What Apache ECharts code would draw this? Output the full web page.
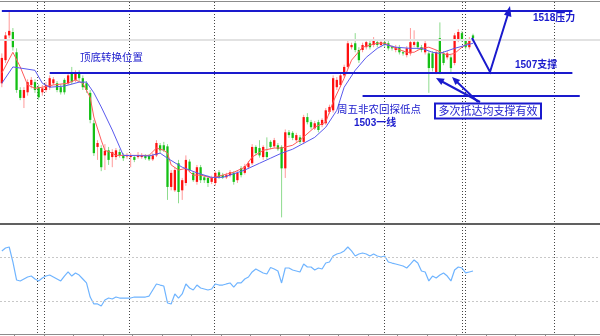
<!DOCTYPE html>
<html><head><meta charset="utf-8">
<script src="https://cdn.jsdelivr.net/npm/echarts@6/dist/echarts.min.js"></script>
<style>html,body{margin:0;padding:0;background:#fff}#c{width:600px;height:336px}</style>
</head><body><div id="c"></div>
<script>
// candle data: [open, close, low, high]
const ohlc = [
[1505.2,1509.7,1504.5,1510.5],[1509.3,1513.7,1508.8,1514.3],[1513.7,1514.5,1513.2,1518.0],[1514.3,1511.6,1511.0,1515.0],
[1510.7,1504.0,1503.5,1511.4],[1504.0,1502.6,1502.2,1504.5],[1502.6,1504.0,1500.8,1504.5],[1503.6,1505.4,1503.0,1505.9],
[1504.9,1505.8,1504.3,1506.3],[1505.4,1504.0,1503.5,1505.9],[1504.5,1502.7,1502.2,1505.0],[1503.6,1504.3,1503.0,1504.9],
[1504.0,1504.9,1503.6,1505.4],[1504.5,1506.1,1504.0,1506.6],[1505.2,1505.9,1504.9,1506.3],[1505.2,1504.0,1503.6,1505.6],
[1504.5,1503.6,1503.2,1505.0],[1505.8,1503.6,1503.2,1506.1],[1505.2,1506.6,1504.9,1507.0],[1507.0,1505.4,1505.0,1508.1],
[1505.8,1507.0,1505.4,1507.5],[1507.0,1506.1,1505.6,1507.5],[1506.1,1504.5,1504.0,1506.6],[1505.2,1504.0,1503.5,1505.6],
[1503.5,1498.7,1498.1,1504.0],[1498.1,1492.8,1492.3,1498.7],[1493.9,1494.6,1491.6,1495.1],[1493.7,1490.3,1489.6,1494.2],
[1492.4,1493.2,1489.8,1494.4],[1493.3,1491.6,1490.7,1493.9],[1492.1,1493.0,1490.3,1493.5],[1492.1,1493.3,1491.6,1493.7],
[1493.0,1492.4,1492.0,1493.5],[1492.4,1491.9,1491.4,1492.8],[1492.3,1492.4,1491.8,1492.8],[1492.1,1492.4,1490.3,1492.8],
[1492.1,1491.6,1491.2,1492.4],[1492.1,1492.4,1491.8,1493.0],[1492.1,1492.4,1491.8,1492.8],[1492.3,1491.9,1491.6,1492.6],
[1492.3,1491.7,1491.4,1492.6],[1491.7,1492.4,1491.4,1492.8],[1492.4,1494.6,1492.1,1495.1],[1494.2,1493.3,1492.8,1494.6],
[1494.2,1493.3,1493.0,1494.8],[1494.0,1486.8,1484.5,1494.4],[1486.8,1489.3,1486.2,1489.8],[1486.2,1489.8,1485.9,1490.3],
[1491.0,1485.9,1483.9,1491.6],[1486.2,1488.0,1484.5,1488.4],[1487.5,1491.6,1487.0,1492.4],[1491.3,1489.8,1489.4,1491.7],
[1489.3,1488.0,1487.7,1489.6],[1487.7,1490.3,1487.2,1490.7],[1490.3,1488.0,1487.5,1490.7],[1488.5,1488.0,1487.5,1488.9],
[1488.4,1487.5,1486.8,1488.8],[1487.7,1488.4,1487.3,1488.8],[1487.5,1489.3,1487.0,1489.6],[1489.4,1488.5,1488.2,1489.8],
[1488.9,1488.5,1488.2,1489.3],[1488.5,1488.9,1488.2,1489.3],[1488.9,1489.4,1488.5,1489.8],[1489.3,1487.7,1487.2,1489.6],
[1488.0,1489.3,1487.5,1489.6],[1490.1,1488.9,1488.5,1490.5],[1489.3,1490.5,1489.0,1490.9],[1490.3,1491.0,1490.0,1491.4],
[1491.0,1493.9,1490.7,1494.4],[1493.9,1492.8,1492.4,1494.2],[1493.7,1492.4,1492.0,1495.1],[1492.1,1493.9,1491.6,1494.2],
[1493.0,1492.1,1491.7,1495.6],[1494.8,1493.9,1493.5,1495.1],[1494.0,1495.1,1493.7,1495.5],[1494.2,1493.5,1493.2,1494.6],
[1493.9,1490.1,1481.4,1494.2],[1490.1,1496.5,1488.4,1497.0],[1496.5,1496.0,1495.5,1496.9],[1496.4,1495.5,1495.1,1496.7],
[1495.1,1496.0,1494.8,1496.4],[1495.6,1494.8,1494.4,1496.0],[1494.8,1499.2,1494.4,1499.6],[1499.2,1498.3,1497.9,1499.9],
[1498.3,1497.4,1497.0,1498.7],[1497.2,1498.1,1496.9,1498.5],[1498.3,1496.9,1496.5,1498.7],[1497.8,1498.7,1497.4,1499.0],
[1498.1,1500.4,1497.8,1500.8],[1500.1,1501.0,1499.7,1501.4],[1500.4,1506.1,1500.0,1506.6],[1504.5,1505.8,1504.0,1506.3],
[1504.9,1506.6,1504.5,1507.0],[1506.6,1508.1,1506.2,1508.5],[1508.1,1512.3,1507.8,1512.8],[1511.6,1512.0,1511.2,1512.4],
[1512.3,1511.1,1510.7,1514.1],[1511.1,1509.3,1508.8,1511.6],[1511.1,1512.0,1510.7,1512.4],[1511.6,1512.5,1511.2,1512.9],
[1512.3,1511.6,1511.2,1512.7],[1512.0,1512.9,1511.6,1513.4],[1512.5,1512.0,1511.6,1512.9],[1512.0,1512.5,1511.6,1512.9],
[1512.5,1512.0,1511.6,1513.0],[1512.3,1511.4,1511.0,1512.7],[1511.6,1511.4,1511.0,1511.9],[1511.1,1511.6,1510.7,1512.0],
[1511.6,1510.7,1510.3,1512.0],[1510.7,1510.5,1510.1,1511.0],[1510.2,1511.4,1509.8,1511.8],[1510.5,1512.5,1510.1,1515.0],
[1512.0,1512.5,1511.6,1514.6],[1512.5,1511.6,1511.2,1512.9],[1511.6,1511.1,1510.7,1512.0],[1510.7,1512.3,1510.3,1512.7],
[1510.5,1507.9,1503.5,1510.9],[1510.5,1507.9,1507.3,1510.9],[1507.2,1510.7,1506.8,1511.1],[1513.2,1507.2,1506.8,1516.0],
[1510.5,1508.8,1508.4,1510.9],[1509.8,1510.5,1509.4,1510.9],[1509.8,1507.9,1507.2,1510.2],[1508.8,1513.7,1508.4,1514.1],
[1512.9,1514.3,1512.5,1514.8],[1514.1,1512.9,1512.5,1514.5],[1512.9,1511.6,1511.2,1513.2],[1511.6,1512.9,1511.2,1513.4],
[1513.7,1513.2,1512.8,1514.0]
];
// moving averages: [candle index, price]
const maFast = [[0,1507.0],[3,1510.7],[5,1508.1],[7,1504.9],[9,1504.3],[11,1504.5],[14,1504.9],[18,1505.2],[20,1505.8],[22,1505.2],[24,1502.7],[25,1499.2],[27,1495.1],[28,1493.3],[30,1492.8],[31,1492.4],[40,1492.4],[42,1493.7],[44,1493.3],[45,1492.8],[46,1490.7],[48,1489.8],[50,1490.1],[52,1488.9],[54,1488.9],[57,1488.4],[60,1488.9],[63,1489.4],[66,1490.3],[68,1492.1],[71,1493.3],[74,1493.7],[76,1493.7],[79,1494.2],[81,1495.1],[85,1497.4],[88,1498.3],[90,1501.9],[93,1506.1],[95,1509.3],[98,1511.6],[102,1512.3],[104,1512.3],[107,1511.4],[110,1510.7],[112,1510.7],[114,1511.4],[116,1511.6],[118,1511.1],[121,1510.2],[123,1510.5],[125,1511.6],[127,1512.5]];
const maSlow = [[0,1505.2],[3,1508.1],[9,1507.5],[11,1505.2],[13,1504.5],[17,1504.7],[21,1505.4],[23,1505.4],[25,1503.5],[27,1501.0],[30,1496.9],[32,1493.9],[33,1492.4],[40,1492.3],[43,1492.8],[45,1491.9],[49,1490.3],[53,1489.3],[57,1488.5],[60,1488.5],[62,1488.9],[66,1489.8],[70,1491.0],[73,1491.9],[76,1492.8],[79,1493.5],[81,1494.2],[85,1495.6],[88,1497.4],[91,1500.4],[93,1504.5],[96,1507.5],[99,1509.8],[102,1511.4],[104,1512.1],[107,1511.6],[111,1511.4],[114,1511.4],[117,1510.7],[119,1510.5],[123,1511.4],[128,1512.3]];
// oscillator (lower panel)
const rsi = [75.5,78.2,79.1,65.5,49.1,48.2,50,51.8,52.7,50,48.2,50.9,52.7,53.6,51.8,50,48.2,52.7,56.4,52.7,55.5,53.6,50,46.4,33.6,27.3,27.3,25.5,30.9,32.7,31.8,33.6,32.7,32.7,32.7,32.7,33.6,33.6,33.6,33.6,34.5,40,45.5,44.5,43.6,28.2,27.3,36.4,32.7,36.4,45.5,41.8,40,44.5,41.8,40.9,40,40.9,45.5,44.5,44.5,45.5,46.4,42.7,46.4,46.4,50,51.8,56.4,59.1,57.3,55.5,54.5,60.5,59.1,57.3,46.4,60,60,58.2,57.3,56.4,63.6,60.9,60.9,58.2,60,59.1,64.5,65.5,70.9,72.7,73.6,75.5,79.1,75.5,70.9,72.7,73.6,72.7,70.9,72.7,70.9,70,70.9,65.5,64.5,63.6,62.7,61.8,60,63.6,67.3,64.5,57.3,56.4,48.2,52.7,50.9,53.6,55.5,52.7,48.2,58.2,60.9,60,55.5,56.4,57.3];
const levels = {resistance:1518, support:1507, low:1503, grey:1513};
const rsiLevels = [30, 70];
const categories = Array.from({length:163}, (_, i) => String(i));
const separatorX = [37.5,44.5,129.5,214.5,384.5,462.5,465.5,554.5];

const BLUE = '#1a1acd';
const CJK = '"Noto Sans CJK SC", sans-serif';
const chart = echarts.init(document.getElementById('c'), null, {renderer:'canvas'});
function txt(x, y, text, font, align){
  return {type:'text', x:x, y:y, z:100, style:{text:text, font:font, fill:BLUE,
    align:align||'left', verticalAlign:'middle', textAlign:align||'left', textVerticalAlign:'middle'}};
}
const graphics = [];
separatorX.forEach(x => graphics.push({type:'line', z:0, shape:{x1:x,y1:2,x2:x,y2:334},
  style:{stroke:'#444', lineWidth:1, lineDash:[1,2]}}));
graphics.push(txt(80,57,'顶底转换位置','10.5px '+CJK));
graphics.push(txt(533,18,'1518压力','bold 10px "Liberation Sans", '+CJK));
graphics.push(txt(515,65,'1507支撑','bold 10px "Liberation Sans", '+CJK));
graphics.push(txt(337,109,'周五非农回探低点','10.5px '+CJK));
graphics.push(txt(354,123,'1503一线','bold 10px "Liberation Sans", '+CJK));
graphics.push({type:'rect', z:99, shape:{x:435,y:103.5,width:106,height:15}, style:{fill:'#fff', stroke:BLUE, lineWidth:2}});
graphics.push(txt(488,111,'多次抵达均支撑有效','11px '+CJK,'center'));
// arrows
graphics.push({type:'polyline', z:100, shape:{points:[[480,102],[441,81]]}, style:{stroke:BLUE, lineWidth:2, fill:null}});
graphics.push({type:'polygon', z:100, shape:{points:[[436,78],[444.7,78.7],[441.3,84.9]]}, style:{fill:BLUE}});
graphics.push({type:'polyline', z:100, shape:{points:[[478,102],[456,81]]}, style:{stroke:BLUE, lineWidth:2, fill:null}});
graphics.push({type:'polygon', z:100, shape:{points:[[452,77],[460.2,80.0],[455.4,85.0]]}, style:{fill:BLUE}});
graphics.push({type:'polyline', z:100, shape:{points:[[472,38],[490,72],[508,14]]}, style:{stroke:BLUE, lineWidth:2, fill:null}});
graphics.push({type:'polygon', z:100, shape:{points:[[510,6],[511.4,17],[504,14.8]]}, style:{fill:BLUE}});

// table for the custom candle series: [index, open, close, low, high]
const candleTable = ohlc.map((d, i) => [i, d[0], d[1], d[2], d[3]]);

function renderCandle(params, api){
  const i = api.value(0), o = api.value(1), c = api.value(2), l = api.value(3), h = api.value(4);
  const pO = api.coord([i, o]), pC = api.coord([i, c]), pL = api.coord([i, l]), pH = api.coord([i, h]);
  const w = api.size([1, 0])[0] * 0.62;
  const up = c >= o;
  const cx = pO[0];
  const top = Math.min(pO[1], pC[1]);
  const bh = Math.max(1, Math.abs(pO[1] - pC[1]));
  return {type:'group', children:[
    {type:'line', shape:{x1:cx, y1:pH[1], x2:cx, y2:pL[1]}, style:{stroke: up ? '#ff9a9a' : '#8edb8e', lineWidth:1}},
    {type:'rect', shape:{x:cx - w/2, y:top, width:w, height:bh}, style:{fill: up ? '#ff1010' : '#14c014'}}
  ]};
}

chart.setOption({
  animation:false,
  backgroundColor:'#fff',
  grid:[{left:0,right:0,top:1,height:222},{left:0,right:0,top:224,height:110}],
  xAxis:[
    {type:'category', gridIndex:0, data:categories, position:'top', boundaryGap:true,
     axisLine:{show:true,lineStyle:{color:'#8c8c8c',width:1}}, axisTick:{show:false}, axisLabel:{show:false}, splitLine:{show:false}},
    {type:'category', gridIndex:1, data:categories, position:'bottom', boundaryGap:true,
     axisLine:{show:true,lineStyle:{color:'#8c8c8c',width:1}},
     axisTick:{show:true, length:3, interval:function(i){return i % 8 === 4;}, lineStyle:{color:'#8c8c8c'}},
     axisLabel:{show:false}, splitLine:{show:false}},
    {type:'category', gridIndex:1, data:categories, position:'top', boundaryGap:true,
     axisLine:{show:true,lineStyle:{color:'#606060',width:2}}, axisTick:{show:false}, axisLabel:{show:false}, splitLine:{show:false}}
  ],
  yAxis:[
    {type:'value', gridIndex:0, min:1480.4, max:1519.8, show:false},
    {type:'value', gridIndex:1, min:0, max:100, show:false}
  ],
  series:[
    {type:'custom', xAxisIndex:0, yAxisIndex:0, data:candleTable, renderItem:renderCandle, z:3,
     encode:{x:0, y:[1,2,3,4]}},
    {type:'line', xAxisIndex:0, yAxisIndex:0, data:maFast, showSymbol:false, z:4,
     lineStyle:{color:'#ff5a5a', width:1}},
    {type:'line', xAxisIndex:0, yAxisIndex:0, data:maSlow, showSymbol:false, z:4,
     lineStyle:{color:'#5a5aee', width:1},
     markLine:{silent:true, symbol:['none','none'], label:{show:false}, animation:false,
       data:[
         {yAxis:levels.grey, lineStyle:{color:'#e2e2e2', width:2, type:'solid'}},
         [{coord:[0,levels.resistance], lineStyle:{color:BLUE,width:2,type:'solid'}},{coord:[155,levels.resistance]}],
         [{coord:[13,levels.support], lineStyle:{color:BLUE,width:2,type:'solid'}},{coord:[155,levels.support]}],
         [{coord:[98,levels.low], lineStyle:{color:BLUE,width:2,type:'solid'}},{coord:[157,levels.low]}]
       ]}},
    {type:'line', xAxisIndex:1, yAxisIndex:1, data:rsi, showSymbol:false,
     lineStyle:{color:'#6fb4ff', width:1.2},
     markLine:{silent:true, symbol:['none','none'], label:{show:false}, animation:false,
       lineStyle:{color:'#c8c8c8', width:1, type:[2,2]},
       data:rsiLevels.map(v => ({yAxis:v}))}}
  ],
  graphic:graphics
});
</script></body></html>
